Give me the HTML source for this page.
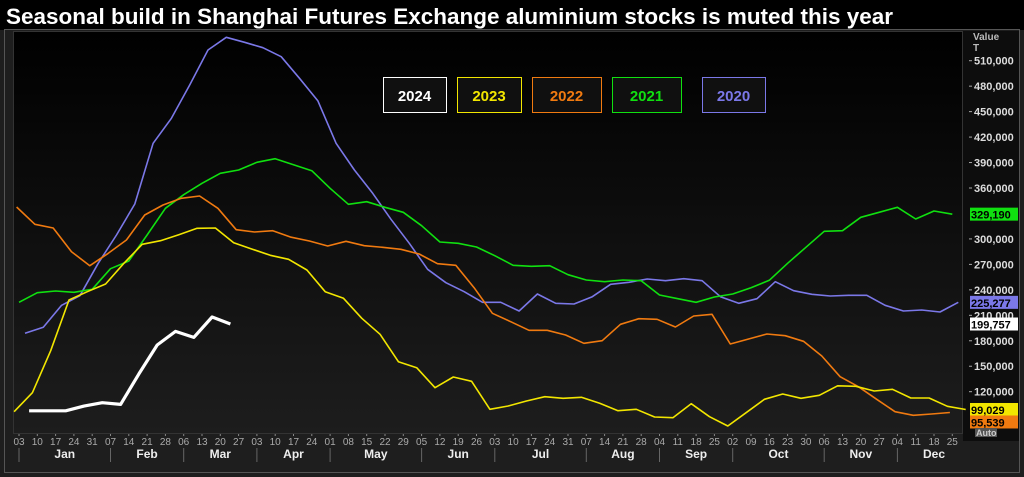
<!DOCTYPE html>
<html><head><meta charset="utf-8">
<style>
html,body{margin:0;padding:0;background:#000;}
svg{display:block;font-family:"Liberation Sans",sans-serif;}
</style></head>
<body>
<svg id="chart" width="1024" height="477" viewBox="0 0 1024 477">
<defs>
<linearGradient id="pg" x1="0" y1="0" x2="0" y2="1">
<stop offset="0" stop-color="#000"/><stop offset="1" stop-color="#1d1d1d"/>
</linearGradient>
</defs>
<rect x="0" y="0" width="1024" height="477" fill="#1e1e1e"/>
<rect x="0" y="0" width="1024" height="30" fill="#000"/>
<rect x="4.5" y="29.5" width="1015" height="443" fill="none" stroke="#555"/>
<text x="6" y="24" font-size="22" font-weight="bold" fill="#fff" textLength="887" lengthAdjust="spacingAndGlyphs">Seasonal build in Shanghai Futures Exchange aluminium stocks is muted this year</text>
<rect x="13" y="31" width="949" height="402" fill="url(#pg)"/>
<rect x="13.5" y="31.5" width="949" height="402" fill="none" stroke="#333"/>
<rect x="963" y="31" width="56" height="410" fill="#0d0d0d"/>
<text x="973" y="40" font-size="10" font-weight="bold" fill="#bbb">Value</text>
<text x="973" y="51" font-size="10" font-weight="bold" fill="#bbb">T</text>
<g id="yaxis"></g>
<g id="xaxis"></g>
<g id="series"></g>
<g id="legend"></g>
<g id="lastvals"></g>
</svg>
<script>
const yTicks = [510000,480000,450000,420000,390000,360000,300000,270000,240000,210000,180000,150000,120000];
const dayLabels = ["03","10","17","24","31","07","14","21","28","06","13","20","27","03","10","17","24","01","08","15","22","29","05","12","19","26","03","10","17","24","31","07","14","21","28","04","11","18","25","02","09","16","23","30","06","13","20","27","04","11","18","25"];
const months = ["Jan","Feb","Mar","Apr","May","Jun","Jul","Aug","Sep","Oct","Nov","Dec"];
const monthStart = [0,5,9,13,17,22,26,31,35,39,44,48,52];
const seriesNames = ["2024","2023","2022","2021","2020"];
const seriesColors = ["#ffffff","#f2e600","#f07a10","#10e010","#7b78e8"];
const seriesOffsets = [0.55,-0.27,-0.13,0,0.33];
const s2024 = [97500,97500,97500,103000,107000,105000,141000,175000,191000,184000,208000,199757];
const s2023 = [96400,118800,168300,228000,237800,246900,271300,293700,297900,305000,312500,312900,295500,288000,280700,276000,263400,237800,230000,206500,187600,155300,148300,124700,137300,132200,99200,103100,109000,114100,112200,113400,106300,97600,99200,90200,89300,105800,90500,79600,95200,111000,117300,112200,115700,127000,126300,120800,122800,112600,112600,102800,99029];
const s2022 = [337600,317200,312900,285000,268400,283000,298700,328200,340000,347900,350600,336100,310900,308200,309700,302000,297600,291700,297200,292000,290100,287800,282200,270800,268900,242500,212400,202500,192300,192300,186800,177000,180100,199400,206000,205300,196200,209200,211200,176200,182100,188000,186000,179400,162000,137700,125900,111000,96400,92200,93700,95539];
const s2021 = [225300,236600,238600,237100,240600,264900,274000,304600,336100,352100,365500,377300,381200,390300,394500,387500,380400,359600,340800,343900,337300,331400,315600,296400,294800,290500,280200,268900,267700,268400,257800,251600,249600,251600,250800,233900,229600,225300,231600,235100,242500,251200,271300,290100,309000,309700,325500,331400,337300,323500,332900,329190];
const s2020 = [188800,195900,221800,233100,271300,304600,341200,412700,442100,481400,522600,537600,531700,525300,514700,489300,462900,412700,381200,353800,323100,294800,264200,248400,237800,225300,225300,215100,235100,224100,223300,231900,246500,248900,252800,250800,253100,250800,231900,224100,229600,249600,239000,234700,232700,233600,233600,221800,215100,216200,213900,225277];
const allSeries = [s2024,s2023,s2022,s2021,s2020];
const lastLabels = ["199,757","99,029","95,539","329,190","225,277"];

const NS = "http://www.w3.org/2000/svg";
function mk(tag, attrs, parent){const e=document.createElementNS(NS,tag);for(const k in attrs)e.setAttribute(k,attrs[k]);parent.appendChild(e);return e;}
function xPos(w){return 19 + w*18.3;}
function yPos(v){return 60.7 + (510000 - v)*0.0008487;}
function fmt(v){return v.toLocaleString("en-US");}

const yg=document.getElementById("yaxis");
yTicks.forEach(v=>{
  const y=yPos(v);
  const t=mk("line",{x1:969,x2:972,y1:y,y2:y,stroke:"#aaa"},yg);
  
  
  const tx=mk("text",{x:974,y:y+4,"font-size":"11","font-weight":"bold",fill:"#ddd"},yg);
  tx.textContent=fmt(v);
  
  
});

const xg=document.getElementById("xaxis");
dayLabels.forEach((d,i)=>{
  const x=xPos(i);
  const tm=mk("line",{x1:x,x2:x,y1:434,y2:436,stroke:"#888"},xg);
  
  
  const t=mk("text",{x:x,y:445,"font-size":"10","text-anchor":"middle",fill:"#aaa"},xg);
  t.textContent=d;
  
  
});
months.forEach((m,i)=>{
  const a=xPos(monthStart[i]), b=xPos(monthStart[i+1]);
  const s=mk("line",{x1:a,x2:a,y1:448,y2:462,stroke:"#666"},xg);
  
  
  const t=mk("text",{x:(a+b)/2,y:458,"font-size":"12","font-weight":"bold","text-anchor":"middle",fill:"#eee"},xg);
  t.textContent=m;
  
  
});

const sg=document.getElementById("series");
for(let s=allSeries.length-1;s>=0;s--){
  const vals=allSeries[s];
  const pts=vals.map((v,i)=>xPos(i+seriesOffsets[s]).toFixed(1)+","+yPos(v).toFixed(1)).join(" ");
  const p=mk("polyline",{points:pts,fill:"none",stroke:seriesColors[s],"stroke-width":s===0?3.2:1.6,"stroke-linejoin":"round"},sg);
  
  
}

const legendX=[383,457,532,612,702];
const legendW=[63,64,69,69,63];
const lg=document.getElementById("legend");
seriesNames.forEach((n,i)=>{
  const r=mk("rect",{x:legendX[i]+0.5,y:77.5,width:legendW[i],height:35,fill:"#101010",stroke:seriesColors[i]},lg);
  
  
  const t=mk("text",{x:legendX[i]+legendW[i]/2,y:101,"font-size":"15","font-weight":"bold","text-anchor":"middle",fill:seriesColors[i]},lg);
  t.textContent=n;
  
  
});

const vg=document.getElementById("lastvals");
const boxOrder=[3,4,0,1,2];
boxOrder.forEach(i=>{
  const vals=allSeries[i];
  let y=yPos(vals[vals.length-1]);
  if(i===2) y=Math.max(y,yPos(s2023[s2023.length-1])+12.5);
  const r=mk("rect",{x:970,y:y-6.5,width:48,height:13,fill:seriesColors[i]},vg);
  
  
  const t=mk("text",{x:971,y:y+4.5,"font-size":"11","font-weight":"bold",fill:"#000"},vg);
  t.textContent=lastLabels[i];
  
  
});
const ab=mk("rect",{x:975,y:428,width:22,height:9,fill:"#555"},vg);


const at=mk("text",{x:976,y:436,"font-size":"9","font-weight":"bold",fill:"#ccc"},vg);
at.textContent="Auto";


</script>
</body></html>
